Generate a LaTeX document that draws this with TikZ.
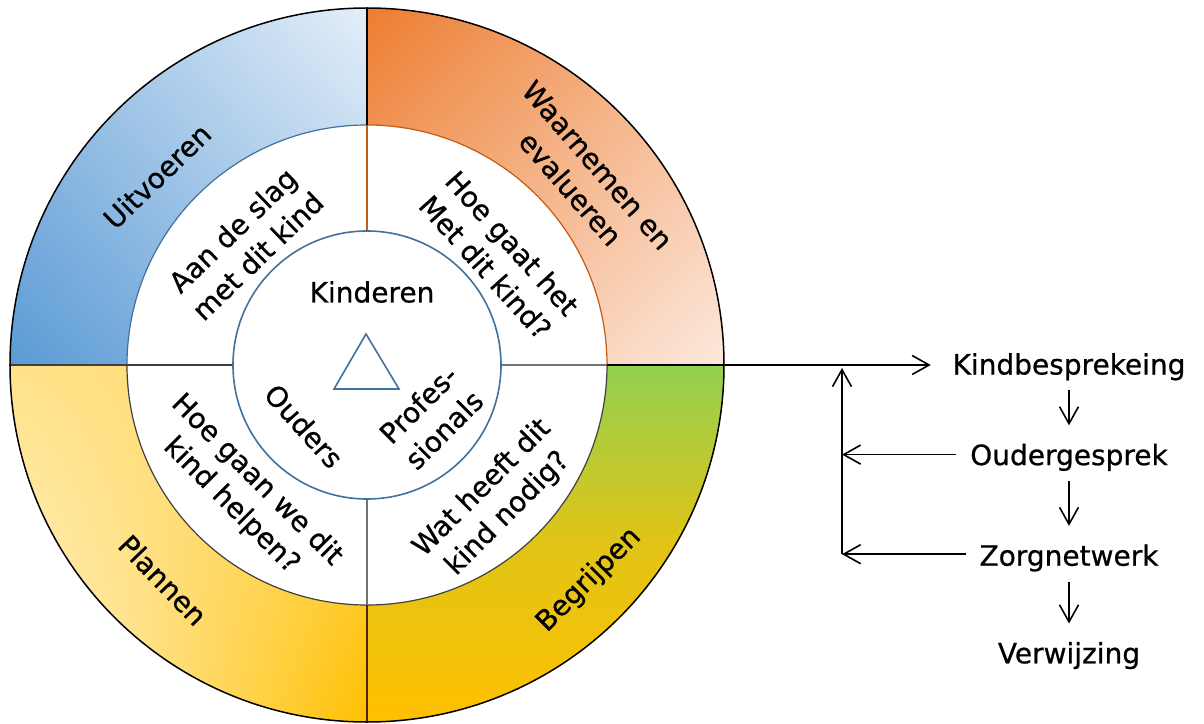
\documentclass[tikz,border=0pt]{standalone}
\usepackage{fontspec}
\setmainfont{DejaVu Sans}[FakeBold=0.7]
\usepackage{tikz}
\usetikzlibrary{arrows.meta, positioning, calc, shadings}

\definecolor{blauw}{HTML}{5B9BD5}
\definecolor{lichtblauw}{HTML}{E4EEF9}
\definecolor{oranje}{HTML}{ED7D31}
\definecolor{lichtoranje}{HTML}{FCE8DC}
\definecolor{groen}{HTML}{92D050}
\definecolor{goud}{HTML}{FFC000}
\definecolor{geel}{HTML}{FFD966}
\definecolor{lichtgeel}{HTML}{FFF5DA}
\definecolor{rand}{HTML}{41719C}
\definecolor{bruin}{HTML}{C55A11}

\tikzset{
	every node/.style={
		font=\fontsize{28}{36}\selectfont
	},
	ringtext/.style={
		align=center,
		inner sep=0pt
	},
	stap/.style={
		text height=22pt,
		text depth=7pt,
		inner sep=0pt
	},
	myarrow/.style={->, shorten >=17pt, shorten <=8pt},
	myarrow2/.style={->, shorten <=13pt},
}

\begin{document}
\begin{tikzpicture}[x=1pt, y=1pt, line width=1.6pt, >={Straight Barb[length=17pt,width=19pt]}]
	\useasboundingbox (-367,-358) rectangle (837,365);
	
	% Buitenste ring
	\shade[lower left=blauw, upper right=lichtblauw, upper left=blauw!55!lichtblauw, lower right=blauw!50!lichtblauw]
		(0,0) -- (180:357) arc[start angle=180, end angle=90, radius=357] -- cycle;
	\shade[upper left=oranje, lower right=lichtoranje, upper right=oranje!45!lichtoranje, lower left=oranje!45!lichtoranje]
		(0,0) -- (90:357) arc[start angle=90, end angle=0, radius=357] -- cycle;
	\shade[top color=groen, bottom color=goud, middle color=goud!72!groen]
		(0,0) -- (0:357) arc[start angle=0, end angle=-90, radius=357] -- cycle;
	\shade[upper left=geel!70!lichtgeel, lower left=lichtgeel, upper right=geel, lower right=goud]
		(0,0) -- (-90:357) arc[start angle=-90, end angle=-180, radius=357] -- cycle;
	
	% Middelste ring
	\fill[white] (0,0) circle[radius=240];
	\draw[rand, line width=1.2pt] (90:240) arc[start angle=90, end angle=180, radius=240];
	\draw[bruin, line width=1.2pt] (0:240) arc[start angle=0, end angle=90, radius=240];
	\draw[black!75, line width=1.2pt] (180:240) arc[start angle=180, end angle=360, radius=240];
	
	% Scheidingslijnen
	\draw[black] (90:240) -- (90:357);
	\draw[black!75] (180:240) -- (180:357);
	\draw[black!60!bruin] (-90:240) -- (-90:357);
	\draw[black] (0:240) -- (0:357);
	\draw[bruin, line width=1.2pt] (90:134) -- (90:240);
	\draw[black!75] (180:134) -- (180:240);
	\draw[black!55, line width=1.2pt] (-90:134) -- (-90:240);
	\draw[black!55, line width=1.2pt] (0:134) -- (0:240);
	
	\draw[black, line width=1.5pt] (0,0) circle[radius=357];
	
	% Binnenste cirkel
	\draw[rand, fill=white] (0,0) circle[radius=134];
	\draw[rand] (-1,31) -- (-33,-24) -- (32,-24) -- cycle;
	
	% Teksten in de ring
	\node[ringtext, rotate=44] (uit) at (-210,189) {Uitvoeren};
	\node[ringtext, rotate=-49] (waar) at (217,188) {Waarnemen en\\evalueren};
	\node[ringtext, rotate=-46] (plan) at (-204,-215) {Plannen};
	\node[ringtext, rotate=45] (begr) at (222,-215) {Begrijpen};
	
	\node[ringtext, rotate=44] (aan) at (-122,122) {Aan de slag\\met dit kind};
	\node[ringtext, rotate=-48] (hoe) at (132,110) {Hoe gaat het\\Met dit kind?};
	\node[ringtext, rotate=-45] (hgw) at (-123,-128) {Hoe gaan we dit\\kind helpen?};
	\node[ringtext, rotate=45] (wat) at (128,-136) {Wat heeft dit\\kind nodig?};
	
	\node[ringtext] (kinderen) at (5,73) {Kinderen};
	\node[ringtext, rotate=-48] (ouders) at (-63,-61) {Ouders};
	\node[ringtext, rotate=45] (prof) at (64,-52) {Profes-\\sionals};
	
	% Stappen rechts
	\node[stap] (kind) at (702,-2) {Kindbesprekeing};
	\node[stap, below=60pt of kind] (oud) {Oudergesprek};
	\node[stap, below=70pt of oud] (zorg) {Zorgnetwerk};
	\node[stap, below=67pt of zorg] (verw) {Verwijzing};
	
	\coordinate (ringO) at (357,0);
	\coordinate (terug) at (475,-3);
	
	\draw[->, shorten >=21pt] (ringO) -- (ringO -| kind.west);
	\draw[myarrow] (kind) -- (oud);
	\draw[myarrow] (oud) -- (zorg);
	\draw[myarrow] (zorg) -- (verw);
	
	\draw[myarrow2] ([yshift=3pt]oud.west) -- ([yshift=3pt]oud.west -| terug);
	\draw[myarrow2] ([yshift=4pt]zorg.west) -- ([yshift=4pt]zorg.west -| terug);
	\draw[->] ([yshift=4pt]zorg.west -| terug) -- (terug);
	
\end{tikzpicture}
\end{document}
